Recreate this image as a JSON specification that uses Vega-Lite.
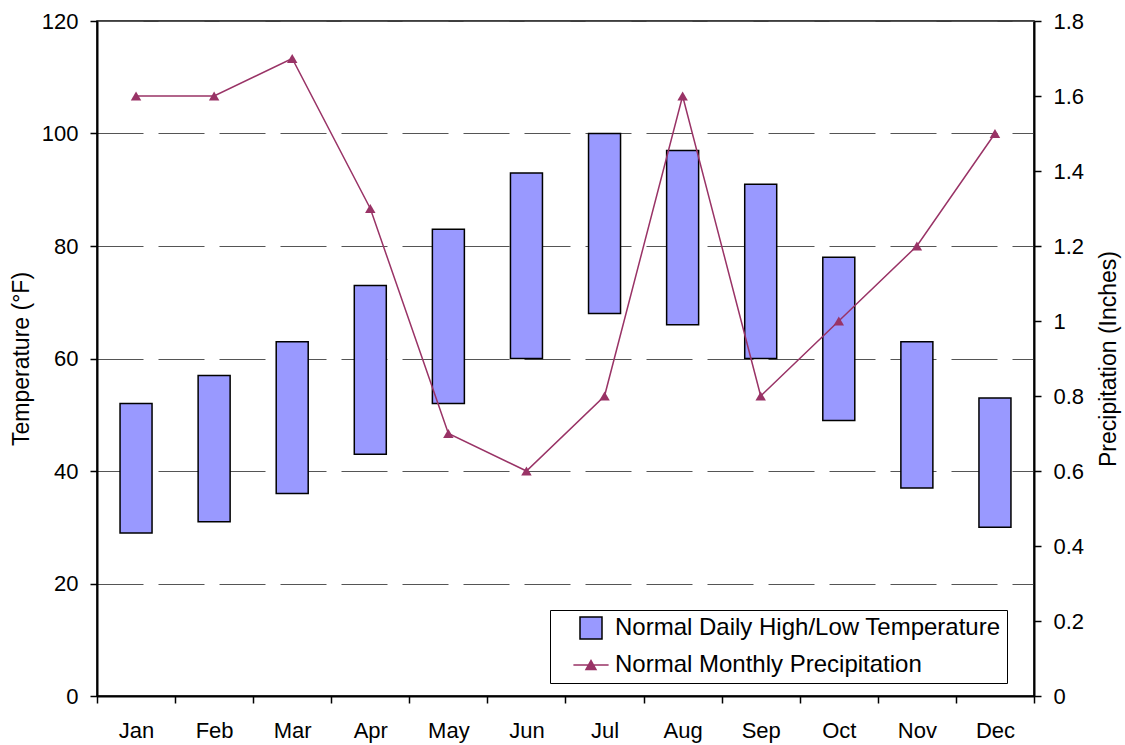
{
  "$schema": "https://vega.github.io/schema/vega-lite/v6.json",
  "width": 937,
  "height": 675,
  "autosize": {"type": "none"},
  "padding": {"left": 97, "top": 21, "right": 91, "bottom": 49},
  "background": "white",
  "config": {
    "font": "Liberation Sans",
    "view": {"stroke": "black", "strokeWidth": 1.5},
    "axis": {
      "labelFont": "Liberation Sans",
      "labelFontSize": 22,
      "labelColor": "black",
      "titleFont": "Liberation Sans",
      "titleFontSize": 23,
      "titleFontWeight": "normal",
      "titleColor": "black",
      "domainColor": "black",
      "domainWidth": 2,
      "tickColor": "black",
      "tickWidth": 1.5,
      "tickSize": 7
    }
  },
  "data": {
    "values": [
      {"month": "Jan", "low": 29, "high": 52, "precip": 1.6},
      {"month": "Feb", "low": 31, "high": 57, "precip": 1.6},
      {"month": "Mar", "low": 36, "high": 63, "precip": 1.7},
      {"month": "Apr", "low": 43, "high": 73, "precip": 1.3},
      {"month": "May", "low": 52, "high": 83, "precip": 0.7},
      {"month": "Jun", "low": 60, "high": 93, "precip": 0.6},
      {"month": "Jul", "low": 68, "high": 100, "precip": 0.8},
      {"month": "Aug", "low": 66, "high": 97, "precip": 1.6},
      {"month": "Sep", "low": 60, "high": 91, "precip": 0.8},
      {"month": "Oct", "low": 49, "high": 78, "precip": 1.0},
      {"month": "Nov", "low": 37, "high": 63, "precip": 1.2},
      {"month": "Dec", "low": 30, "high": 53, "precip": 1.5}
    ]
  },
  "encoding": {
    "x": {
      "field": "month",
      "type": "ordinal",
      "sort": null,
      "scale": {"paddingInner": 0, "paddingOuter": 0},
      "axis": {"title": null, "labelAngle": 0, "tickBand": "extent", "labelPadding": 17, "grid": false}
    }
  },
  "layer": [
    {
      "mark": {"type": "bar", "width": 32, "stroke": "black", "strokeWidth": 1.5},
      "encoding": {
        "y": {
          "field": "low",
          "type": "quantitative",
          "scale": {"domain": [0, 120], "nice": false},
          "axis": {
            "title": "Temperature (°F)",
            "values": [0, 20, 40, 60, 80, 100, 120],
            "grid": true,
            "gridDash": [46, 15],
            "gridColor": "#555",
            "gridWidth": 1,
            "labelPadding": 12,
            "titlePadding": 8
          }
        },
        "y2": {"field": "high"},
        "fill": {
          "datum": "Normal Daily High/Low Temperature",
          "type": "nominal",
          "scale": {
            "domain": ["Normal Daily High/Low Temperature", "Normal Monthly Precipitation"],
            "range": ["#9999FF", "#993366"]
          },
          "legend": {
            "orient": "none",
            "legendX": 453,
            "legendY": 589,
            "title": null,
            "labelFont": "Liberation Sans",
            "labelFontSize": 24,
            "labelColor": "black",
            "labelLimit": 600,
            "labelOffset": 12,
            "symbolSize": 484,
            "rowPadding": 11,
            "padding": 6,
            "symbolOffset": 23,
            "strokeColor": "black",
            "fillColor": "white",
            "symbolStrokeWidth": 1.5,
            "symbolStrokeColor": "black",
            "encode": {
              "symbols": {
                "update": {
                  "shape": {"signal": "datum.value === 'Normal Monthly Precipitation' ? 'M-1.6,0H1.6M-0.45,0.4L0,-0.4L0.45,0.4Z' : 'square'"},
                  "stroke": {"signal": "datum.value === 'Normal Monthly Precipitation' ? '#993366' : 'black'"}
                }
              }
            }
          }
        }
      }
    },
    {
      "mark": {"type": "line", "color": "#993366", "strokeWidth": 1.5, "point": {"shape": "triangle-up", "filled": true, "size": 110, "color": "#993366", "opacity": 1}},
      "encoding": {
        "y": {
          "field": "precip",
          "type": "quantitative",
          "scale": {"domain": [0, 1.8], "nice": false},
          "axis": {
            "orient": "right",
            "title": "Precipitation (Inches)",
            "values": [0, 0.2, 0.4, 0.6, 0.8, 1.0, 1.2, 1.4, 1.6, 1.8],
            "format": ".1~f",
            "grid": false,
            "labelPadding": 12,
            "titlePadding": 14,
            "titleAngle": 270,
            "titleBaseline": "top"
          }
        }
      }
    }
  ],
  "resolve": {"scale": {"y": "independent"}}
}
